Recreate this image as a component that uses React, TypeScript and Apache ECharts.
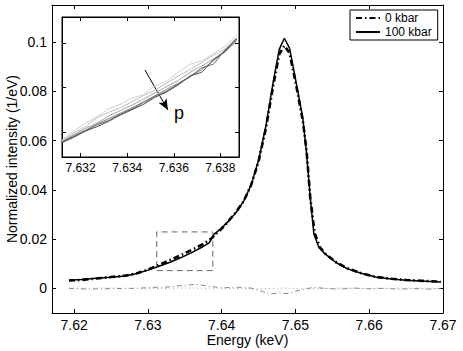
import React, { useEffect, useRef } from "react";
import * as echarts from "echarts";

// 100 kbar (solid)
const energy100 = [7.6193, 7.621, 7.623, 7.625, 7.627, 7.6285, 7.63, 7.6315, 7.633, 7.6345, 7.636, 7.6375, 7.6383, 7.639, 7.64, 7.641, 7.642, 7.643, 7.644, 7.645, 7.646, 7.647, 7.6478, 7.6485, 7.6492, 7.65, 7.651, 7.6515, 7.652, 7.6525, 7.6532, 7.654, 7.6555, 7.657, 7.659, 7.661, 7.663, 7.665, 7.667, 7.6697];
const int100 = [0.0033, 0.0036, 0.0041, 0.0045, 0.005, 0.006, 0.0074, 0.009, 0.0106, 0.0125, 0.0146, 0.017, 0.0185, 0.022, 0.0245, 0.0275, 0.031, 0.0355, 0.042, 0.052, 0.066, 0.084, 0.097, 0.1015, 0.0975, 0.085, 0.069, 0.055, 0.037, 0.022, 0.0165, 0.014, 0.0105, 0.008, 0.006, 0.0045, 0.0038, 0.0033, 0.003, 0.0026];

// 0 kbar (dash-dot)
const energy0 = [7.6193, 7.621, 7.623, 7.625, 7.627, 7.6285, 7.63, 7.6315, 7.633, 7.6345, 7.636, 7.6375, 7.6385, 7.6395, 7.6405, 7.642, 7.643, 7.644, 7.645, 7.646, 7.647, 7.6478, 7.6485, 7.6492, 7.65, 7.651, 7.6515, 7.652, 7.6526, 7.6533, 7.654, 7.6555, 7.657, 7.659, 7.661, 7.663, 7.665, 7.667, 7.6697];
const int0 = [0.0032, 0.0034, 0.004, 0.0046, 0.0052, 0.0061, 0.0076, 0.0095, 0.0115, 0.0135, 0.0157, 0.018, 0.02, 0.0228, 0.0258, 0.0312, 0.0355, 0.042, 0.0515, 0.065, 0.0825, 0.095, 0.0985, 0.0955, 0.084, 0.068, 0.056, 0.037, 0.0225, 0.0168, 0.0142, 0.0106, 0.0082, 0.0061, 0.0046, 0.0039, 0.0034, 0.0031, 0.0027];

// difference (dash-dot grey)
const energyDiff = [7.6193, 7.622, 7.625, 7.628, 7.631, 7.633, 7.635, 7.6365, 7.638, 7.64, 7.642, 7.644, 7.6455, 7.6465, 7.6475, 7.649, 7.65, 7.651, 7.6525, 7.654, 7.656, 7.658, 7.66, 7.662, 7.664, 7.666, 7.668, 7.6697];
const intDiff = [0.0, -0.0003, -0.0001, 0.0, 0.0004, 0.0006, 0.0013, 0.0016, 0.001, 0.0002, 0.0005, 0.0001, -0.0012, -0.0024, -0.0019, -0.0021, -0.0012, -0.0004, 0.0004, 0.0, -0.0003, 0.0001, -0.0002, 0.0, -0.0003, -0.0001, -0.0003, 0.0];

// dotted
const energyDot = [7.6193, 7.625, 7.63, 7.635, 7.64, 7.645, 7.648, 7.652, 7.656, 7.66, 7.665, 7.6697];
const intDot = [0.0, 0.0001, -0.0001, 0.0001, 0.0, -0.0002, 0.0001, -0.0002, 0.0001, 0.0, 0.0001, 0.0];

// zoom box (data coords)
const boxE = [7.6312, 7.6388];
const boxI = [0.0072, 0.0229];

// inset
const insetEnergy = [7.6312, 7.6317, 7.6322, 7.6327, 7.6332, 7.6337, 7.6342, 7.6347, 7.6352, 7.6357, 7.6362, 7.6367, 7.6372, 7.6377, 7.6382, 7.6387];
const insetLines = [
  [0.0091, 0.0101, 0.011, 0.0117, 0.0126, 0.0131, 0.0138, 0.0142, 0.0152, 0.0157, 0.0167, 0.0176, 0.018, 0.0188, 0.0196, 0.0209],
  [0.009, 0.0099, 0.0106, 0.0116, 0.0122, 0.0127, 0.0134, 0.0141, 0.0147, 0.0155, 0.0163, 0.017, 0.0178, 0.0186, 0.0193, 0.0206],
  [0.0089, 0.0097, 0.0104, 0.011, 0.0118, 0.0124, 0.013, 0.0137, 0.0144, 0.0151, 0.0158, 0.0167, 0.0174, 0.0182, 0.0191, 0.0203],
  [0.0089, 0.0096, 0.0102, 0.0109, 0.0115, 0.0121, 0.0127, 0.0134, 0.0141, 0.0148, 0.0155, 0.0162, 0.017, 0.018, 0.019, 0.0202],
  [0.0089, 0.0095, 0.0101, 0.0108, 0.0113, 0.012, 0.0126, 0.0133, 0.014, 0.0146, 0.0154, 0.0162, 0.0172, 0.0176, 0.0192, 0.0204],
  [0.0088, 0.0094, 0.0101, 0.0106, 0.0112, 0.0119, 0.0125, 0.0131, 0.0139, 0.0145, 0.0153, 0.0163, 0.0167, 0.0181, 0.019, 0.0205],
];
const insetColors = ["#d2d2d2", "#bcbcbc", "#a4a4a4", "#8a8a8a", "#6c6c6c", "#4e4e4e"];
const arrowStart = [7.63476, 0.01696];
const arrowEnd = [7.63575, 0.01247];

const xTicks = [7.62, 7.63, 7.64, 7.65, 7.66, 7.67];
const yTicks = [0, 0.02, 0.04, 0.06, 0.08, 0.1];
const insetXTicks = [7.632, 7.634, 7.636, 7.638];
const insetYTicks = [0.01, 0.015, 0.02];

const FONT = "Liberation Sans";

const zip = (a: number[], b: number[]) => a.map((v, i) => [v, b[i]]);

export default function App() {
  const ref = useRef<HTMLDivElement>(null);
  useEffect(() => {
    if (!ref.current) return;
    const chart = echarts.init(ref.current, null, { renderer: "svg" });
    const axisBase = (gridIndex: number, min: number, max: number, ticks: number[], showLabel: boolean, position: string, fontSize: number, fmt?: (v: number) => string) => ({
      type: "value",
      gridIndex,
      min,
      max,
      position,
      nameMoveOverlap: false,
      splitLine: { show: false },
      axisLine: { show: true, onZero: false, lineStyle: { color: "#000", width: 1 } },
      axisTick: { show: true, inside: true, length: 4, customValues: ticks, lineStyle: { color: "#000" } },
      axisLabel: {
        show: showLabel,
        customValues: ticks,
        color: "#000",
        fontFamily: FONT,
        fontSize,
        margin: 5,
        formatter: fmt,
      },
    });
    const mainY = (v: number) => (v === 0 ? "0" : String(+v.toFixed(2)));
    const option: any = {
      animation: false,
      backgroundColor: "#fff",
      grid: [
        { left: 52, top: 5, width: 391, height: 308, show: false, outerBoundsMode: "none", containLabel: false },
        { left: 62, top: 17, width: 177, height: 140, show: true, backgroundColor: "#fff", borderColor: "#000", borderWidth: 1, z: 5, outerBoundsMode: "none", containLabel: false },
      ],
      xAxis: [
        { ...axisBase(0, 7.617, 7.67, xTicks, true, "bottom", 14), name: "Energy (keV)", nameLocation: "middle", nameGap: 20, nameTextStyle: { fontFamily: FONT, fontSize: 14, color: "#000" } },
        axisBase(0, 7.617, 7.67, xTicks, false, "top", 14),
        { ...axisBase(1, 7.6312, 7.6388, insetXTicks, true, "bottom", 12), z: 6 },
        { ...axisBase(1, 7.6312, 7.6388, insetXTicks, false, "top", 12), z: 6 },
      ],
      yAxis: [
        { ...axisBase(0, -0.01, 0.115, yTicks, true, "left", 14, mainY), name: "Normalized intensity (1/eV)", nameLocation: "middle", nameGap: 33, nameTextStyle: { fontFamily: FONT, fontSize: 14, color: "#000" } },
        axisBase(0, -0.01, 0.115, yTicks, false, "right", 14),
        { ...axisBase(1, 0.0072, 0.0229, insetYTicks, false, "left", 12), z: 6 },
        { ...axisBase(1, 0.0072, 0.0229, insetYTicks, false, "right", 12), z: 6 },
      ],
      legend: {
        left: 350,
        top: 10,
        orient: "vertical",
        data: ["0 kbar", "100 kbar"],
        backgroundColor: "#fff",
        borderColor: "#000",
        borderWidth: 1,
        borderRadius: 0,
        padding: [2, 6, 2, 5],
        itemGap: 2,
        itemWidth: 24,
        itemHeight: 11,
        itemStyle: { opacity: 0 },
        textStyle: { fontFamily: FONT, fontSize: 12, color: "#000" },
      },
      series: [
        {
          name: "100 kbar",
          type: "line",
          xAxisIndex: 0,
          yAxisIndex: 0,
          data: zip(energy100, int100),
          showSymbol: false,
          symbol: "none",
          lineStyle: { color: "#000", width: 1.5 },
          itemStyle: { color: "#000" },
          z: 3,
        },
        {
          name: "0 kbar",
          type: "line",
          xAxisIndex: 0,
          yAxisIndex: 0,
          data: zip(energy0, int0),
          showSymbol: false,
          symbol: "none",
          lineStyle: { color: "#000", width: 2.6, type: [6, 3, 1.5, 3] },
          itemStyle: { color: "#000" },
          z: 4,
        },
        {
          name: "diff",
          type: "line",
          xAxisIndex: 0,
          yAxisIndex: 0,
          data: zip(energyDiff, intDiff),
          showSymbol: false,
          symbol: "none",
          lineStyle: { color: "#777", width: 0.9, type: [5, 3, 1, 3] },
          silent: true,
        },
        {
          name: "dot",
          type: "line",
          xAxisIndex: 0,
          yAxisIndex: 0,
          data: zip(energyDot, intDot),
          showSymbol: false,
          symbol: "none",
          lineStyle: { color: "#999", width: 0.9, type: [1, 3] },
          silent: true,
        },
        {
          name: "box",
          type: "line",
          xAxisIndex: 0,
          yAxisIndex: 0,
          data: [
            [boxE[0], boxI[0]],
            [boxE[1], boxI[0]],
            [boxE[1], boxI[1]],
            [boxE[0], boxI[1]],
            [boxE[0], boxI[0]],
          ],
          showSymbol: false,
          symbol: "none",
          lineStyle: { color: "#666", width: 1, type: [6, 4] },
          silent: true,
        },
        ...insetLines.map((vals, i) => ({
          name: "inset" + i,
          type: "line",
          xAxisIndex: 2,
          yAxisIndex: 2,
          data: zip(insetEnergy, vals),
          showSymbol: false,
          symbol: "none",
          lineStyle: { color: insetColors[i], width: 1 },
          z: 6,
          silent: true,
          ...(i === 0
            ? {
                markLine: {
                  silent: true,
                  symbol: ["none", "arrow"],
                  symbolSize: [7, 11],
                  label: { show: false },
                  lineStyle: { color: "#000", width: 1, type: "solid" },
                  data: [[{ coord: arrowStart }, { coord: arrowEnd }]],
                },
              }
            : {}),
        })),
      ],
      graphic: [
        {
          type: "text",
          x: 174,
          y: 104,
          z: 10,
          style: { text: "p", fontFamily: FONT, fontSize: 18, fill: "#000" },
        },
      ],
    };
    chart.setOption(option);
    return () => chart.dispose();
  }, []);
  return <div ref={ref} style={{ position: "fixed", left: 0, top: 0, width: 463, height: 351 }} />;
}
